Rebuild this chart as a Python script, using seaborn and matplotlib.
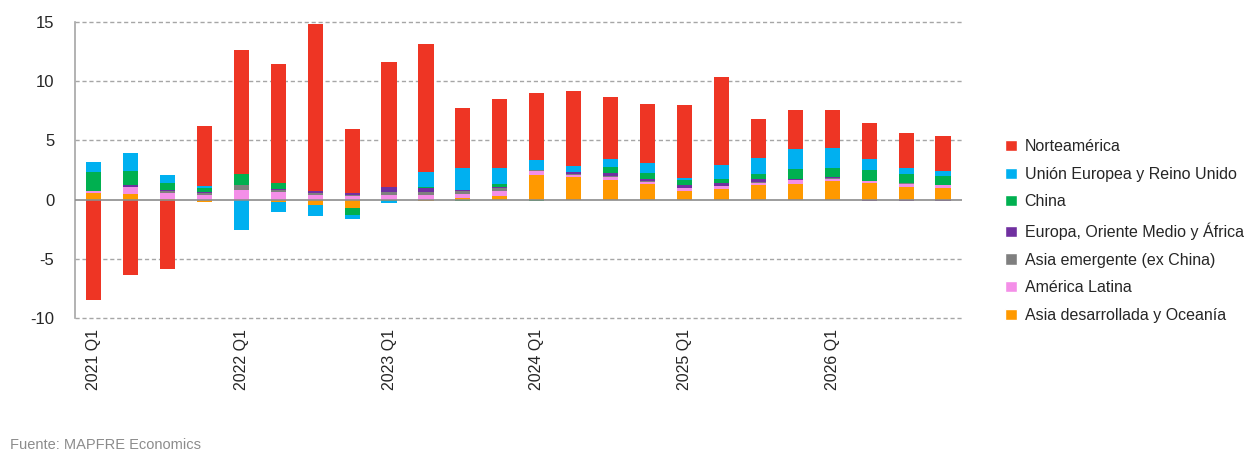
import numpy as np
import pandas as pd
import matplotlib.pyplot as plt
import seaborn as sns
from matplotlib.patches import Patch

years = [2021, 2022, 2023, 2024, 2025, 2026]
trimestres = [f"{y} Q{q}" for y in years for q in range(1, 5)]

# contribuciones por región (puntos porcentuales), orden de apilado de abajo a arriba
asia_des = [0.56, 0.45, 0.05, -0.22, 0.0, -0.22, -0.45, -0.68, -0.05, -0.1, 0.17, 0.3,
            2.1, 1.9, 1.7, 1.35, 0.76, 0.93, 1.2, 1.35, 1.58, 1.4, 1.1, 0.96]
america_lat = [0.2, 0.6, 0.55, 0.42, 0.8, 0.62, 0.37, 0.3, 0.42, 0.42, 0.34, 0.45,
               0.3, 0.2, 0.22, 0.14, 0.2, 0.2, 0.2, 0.28, 0.17, 0.14, 0.25, 0.25]
asia_emer = [0.0, 0.05, 0.1, 0.14, 0.4, 0.22, 0.2, 0.08, 0.2, 0.2, 0.22, 0.2,
             0.1, 0.05, 0.05, 0.05, 0.05, 0.05, 0.08, 0.05, 0.05, 0.03, 0.03, 0.03]
europa_oma = [0.0, 0.14, 0.08, 0.06, 0.0, 0.08, 0.14, 0.22, 0.45, 0.37, 0.1, 0.08,
              0.0, 0.17, 0.28, 0.17, 0.22, 0.2, 0.25, 0.1, 0.08, -0.1, -0.1, -0.1]
china = [1.6, 1.2, 0.6, 0.4, 0.93, 0.48, 0.0, -0.6, -0.1, 0.05, -0.1, 0.3,
         -0.1, 0.0, 0.48, 0.56, 0.4, 0.4, 0.45, 0.85, 0.82, 0.96, 0.76, 0.73]
ue_ru = [0.85, 1.5, 0.7, 0.1, -2.6, -0.8, -0.95, -0.37, -0.15, 1.3, 1.83, 1.32,
         0.85, 0.5, 0.7, 0.85, 0.2, 1.13, 1.32, 1.66, 1.7, 0.87, 0.56, 0.48]
norteamerica = [-8.5, -6.4, -5.85, 5.1, 10.5, 10.1, 14.1, 5.4, 10.55, 10.8, 5.1, 5.83,
                5.7, 6.4, 5.27, 5.0, 6.2, 7.43, 3.3, 3.3, 3.2, 3.07, 2.9, 2.93]

series = [
    ("Asia desarrollada y Oceanía", asia_des, "#FF9900"),
    ("América Latina", america_lat, "#F48FE8"),
    ("Asia emergente (ex China)", asia_emer, "#7F7F7F"),
    ("Europa, Oriente Medio y África", europa_oma, "#7030A0"),
    ("China", china, "#00B050"),
    ("Unión Europea y Reino Unido", ue_ru, "#00B0F0"),
    ("Norteamérica", norteamerica, "#EE3524"),
]

sns.set_style("white")
plt.rcParams['font.family'] = ['Liberation Sans', 'DejaVu Sans']

fig = plt.figure(figsize=(12.52, 4.70), dpi=100)
ax = fig.add_axes([0.06, 0.3234, 0.708, 0.6296])

vals = np.array([s[1] for s in series])
cum_pos = np.cumsum(np.clip(vals, 0, None), axis=0)
cum_neg = np.cumsum(np.clip(vals, None, 0), axis=0)

# apilado por superposición: del acumulado mayor al menor
for i in range(len(series) - 1, -1, -1):
    color = series[i][2]
    sns.barplot(x=trimestres, y=cum_pos[i], order=trimestres, color=color,
                width=0.41, saturation=1, ax=ax, linewidth=0)
    sns.barplot(x=trimestres, y=cum_neg[i], order=trimestres, color=color,
                width=0.41, saturation=1, ax=ax, linewidth=0)

ax.set_ylim(-10, 15)
ax.set_xlim(-0.5, len(trimestres) - 0.5)
ax.set_yticks([-10, -5, 0, 5, 10, 15])
ax.set_yticklabels(["-10", "-5", "0", "5", "10", "15"], fontsize=12)
for yv in [-10, -5, 5, 10, 15]:
    ax.axhline(yv, color="#A6A6A6", linestyle=(0, (3, 2)), linewidth=1,
               zorder=0, clip_on=False)
ax.axhline(0, color="#8C8C8C", linewidth=1.2, zorder=3)

ax.set_xticks(range(len(trimestres)))
ax.set_xticklabels([t if t.endswith("Q1") else "" for t in trimestres],
                   rotation=90, fontsize=11.5)
ax.tick_params(axis="x", length=0, pad=8)
ax.tick_params(axis="y", length=0, pad=15)
ax.set_xlabel("")
ax.set_ylabel("")

for s in ["top", "right", "bottom"]:
    ax.spines[s].set_visible(False)
ax.spines["left"].set_color("#A6A6A6")
ax.spines["left"].set_linewidth(1.2)

handles = [Patch(facecolor=c, label=n) for n, _, c in reversed(series)]
fig.legend(handles=handles, loc="center left", bbox_to_anchor=(0.803, 0.5085),
           frameon=False, fontsize=11.5, handlelength=0.7, handleheight=0.7,
           handletextpad=0.5, labelspacing=0.8, borderpad=0, borderaxespad=0)

fig.text(0.008, 0.045, "Fuente: MAPFRE Economics", color="#8C8C8C", fontsize=10.5,
         family=["Liberation Sans Narrow", "Liberation Sans", "DejaVu Sans"])

fig.savefig("out.png", dpi=100)
